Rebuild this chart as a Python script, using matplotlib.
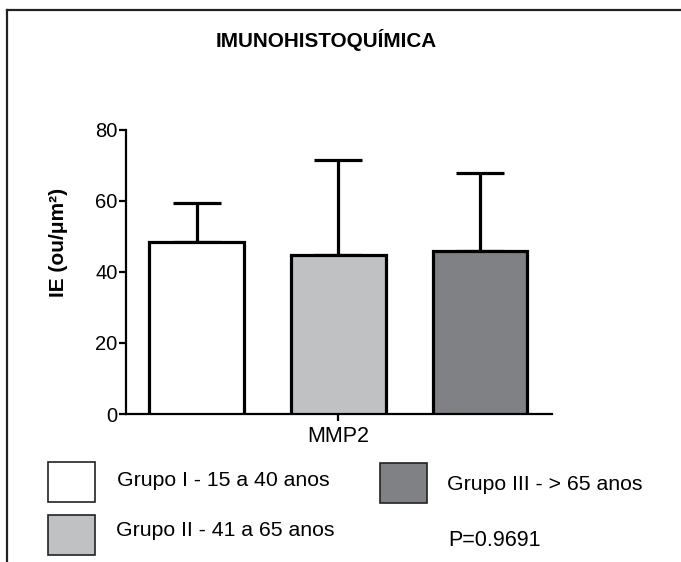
import matplotlib
matplotlib.use("Agg")
import matplotlib.pyplot as plt
from matplotlib.patches import Rectangle
from matplotlib.lines import Line2D

plt.rcParams['font.family'] = ['Liberation Sans', 'DejaVu Sans']

# Data
groups = ["Grupo I - 15 a 40 anos", "Grupo II - 41 a 65 anos", "Grupo III - > 65 anos"]
means = [48.3, 44.7, 45.8]
upper_err = [11.1, 26.7, 21.9]
colors = ["#ffffff", "#c0c1c3", "#808184"]
category = "MMP2"
yticks = [0, 20, 40, 60, 80]
title = "IMUNOHISTOQUÍMICA"
ylabel = "IE (ou/\u03bcm\u00b2)"
pvalue_text = "P=0.9691"

W, H = 681, 562
fig = plt.figure(figsize=(W / 100, H / 100), dpi=100)

# frame lines (left and top)
fig.add_artist(Line2D([7 / W, 7 / W], [0, 1 - 10 / H], color="#222222", lw=1.6, transform=fig.transFigure))
fig.add_artist(Line2D([7 / W, 1], [1 - 10 / H, 1 - 10 / H], color="#222222", lw=1.6, transform=fig.transFigure))

ax = fig.add_axes([126 / W, 1 - 414 / H, (552 - 126) / W, (414 - 129.5) / H])
x = list(range(len(means)))
ax.bar(x, means, width=0.67, color=colors, edgecolor="black", linewidth=2.3, zorder=3)
ax.errorbar(x, means, yerr=[[0] * len(means), upper_err], fmt="none", ecolor="black",
            elinewidth=2.3, capsize=17.5, capthick=2.3, zorder=2)
ax.set_xlim(-0.4975, 2.508)
ax.set_ylim(0, 80)
ax.set_yticks(yticks)
ax.set_xticks([1])
ax.set_xticklabels([category])
for s in ["top", "right"]:
    ax.spines[s].set_visible(False)
for s in ["left", "bottom"]:
    ax.spines[s].set_linewidth(1.6)
ax.tick_params(axis="both", width=1.6, length=5, labelsize=14.5, pad=1)
ax.tick_params(axis="x", pad=4, labelsize=15.5)

fig.text(58 / W, 1 - 242 / H, ylabel, ha="center", va="center", rotation=90,
         fontsize=15, fontweight="bold")

fig.text(326 / W, 1 - 40 / H, title, ha="center", va="center", fontsize=14.9, fontweight="bold")

# legend
patch_boxes = [(48, 462, 47, 40), (48, 515, 47, 40), (380, 463, 47, 40)]
text_pos = [(117, 480), (116, 530), (447, 485)]
for (px, py, pw, ph), c, (tx, ty), g in zip(patch_boxes, colors, text_pos, groups):
    fig.add_artist(Rectangle((px / W, 1 - (py + ph) / H), pw / W, ph / H, facecolor=c,
                             edgecolor="#222222", lw=1.2, transform=fig.transFigure))
    fig.text(tx / W, 1 - ty / H, g, ha="left", va="center", fontsize=15.3)

fig.text(448 / W, 1 - 540 / H, pvalue_text, ha="left", va="center", fontsize=15.5)

fig.savefig("out.png", dpi=100)
